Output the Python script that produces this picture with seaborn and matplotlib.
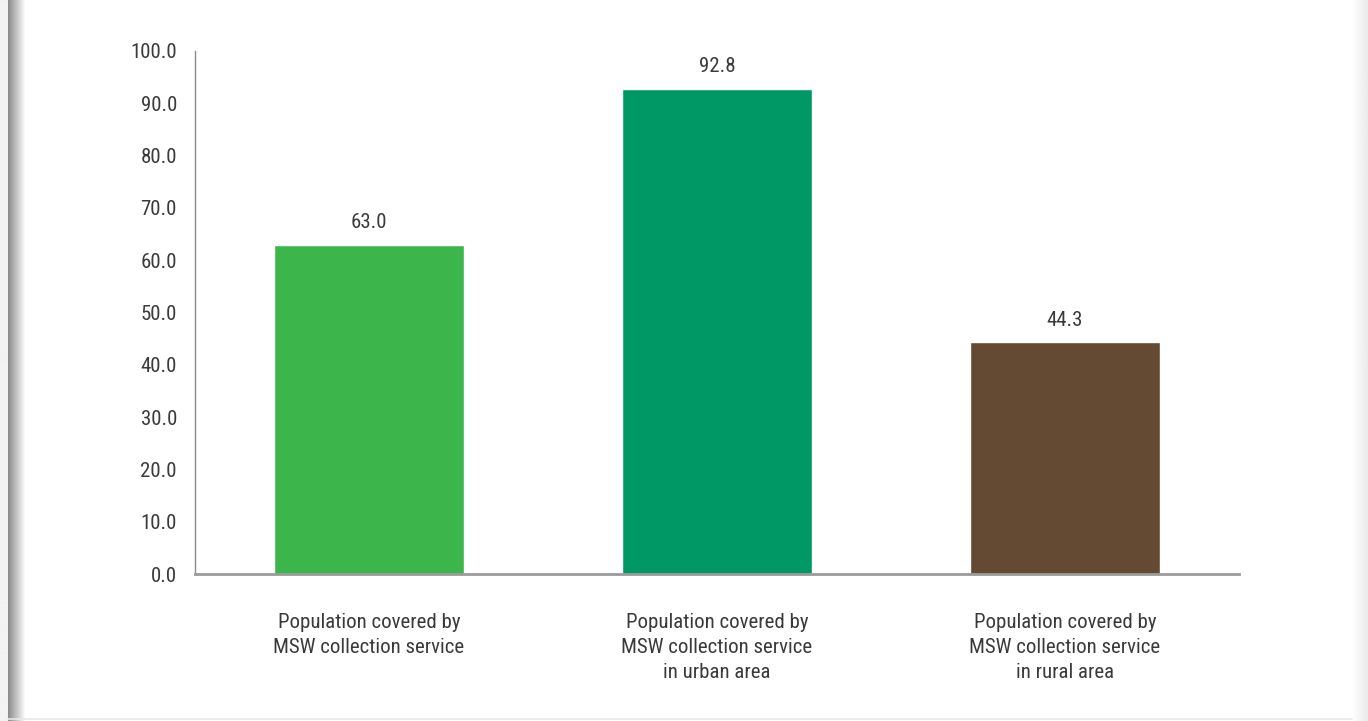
import numpy as np
import pandas as pd
import matplotlib
matplotlib.use("Agg")
import matplotlib.pyplot as plt
import seaborn as sns

categories = [
    "Population covered by\nMSW collection service",
    "Population covered by\nMSW collection service\nin urban area",
    "Population covered by\nMSW collection service\nin rural area",
]
values = [63.0, 92.8, 44.3]
bar_colors = ["#3cb64a", "#009966", "#654a33"]
y_ticks = [0, 10, 20, 30, 40, 50, 60, 70, 80, 90, 100]

sns.set_style("white")
plt.rcParams["font.family"] = ["Roboto Condensed", "DejaVu Sans"]
plt.rcParams["font.stretch"] = "condensed"
plt.rcParams["font.weight"] = "normal"
text_color = "#3a3a3a"
fs = 15

W, H = 1368, 721
fig = plt.figure(figsize=(W / 100, H / 100), dpi=100)
fig.patch.set_facecolor("white")

# page frame shading: left shadow, faint right edge, thin bottom rule
left = fig.add_axes([0, 0, 26 / W, 1])
grad = np.concatenate([np.full(8, 0.95), np.linspace(0.55, 1.0, 18)])
left.imshow(grad[None, :], cmap="gray", vmin=0, vmax=1, aspect="auto",
            extent=[0, 1, 0, 1], interpolation="bilinear")
left.axis("off")
right = fig.add_axes([1352 / W, 0, 16 / W, 1])
rgrad = np.linspace(1.0, 0.92, 16)
right.imshow(rgrad[None, :], cmap="gray", vmin=0, vmax=1, aspect="auto",
             extent=[0, 1, 0, 1], interpolation="bilinear")
right.axis("off")
fig.add_artist(plt.Line2D([8 / W, 1352 / W], [2.5 / H, 2.5 / H],
                          color="#e8e8e8", lw=1.2, transform=fig.transFigure))

ax = fig.add_axes([195 / W, (H - 574) / H, 1044 / W, 523 / H])
df = pd.DataFrame({"category": categories, "value": values})
sns.barplot(data=df, x="category", y="value", hue="category",
            palette=bar_colors, width=0.546, saturation=1, legend=False, ax=ax)

ax.set_xlim(-0.5, 2.5)
ax.set_ylim(0, 100)
ax.set_yticks(y_ticks)
ax.set_yticklabels([f"{v:.1f}" for v in y_ticks])
ax.set_xlabel("")
ax.set_ylabel("")
ax.tick_params(axis="y", length=0, pad=13, labelsize=fs, labelcolor=text_color)
ax.tick_params(axis="x", length=0, pad=28, labelsize=fs, labelcolor=text_color)
for lbl in ax.get_xticklabels():
    lbl.set_linespacing(1.42)

for s in ["top", "right"]:
    ax.spines[s].set_visible(False)
ax.spines["left"].set_color("#8a8a8a")
ax.spines["left"].set_linewidth(1.0)
ax.spines["bottom"].set_color("#9a9a9a")
ax.spines["bottom"].set_linewidth(2.0)

for container in ax.containers:
    ax.bar_label(container, fmt="%.1f", padding=9, fontsize=fs, color=text_color)

fig.savefig("out.png", dpi=100, facecolor="white")
